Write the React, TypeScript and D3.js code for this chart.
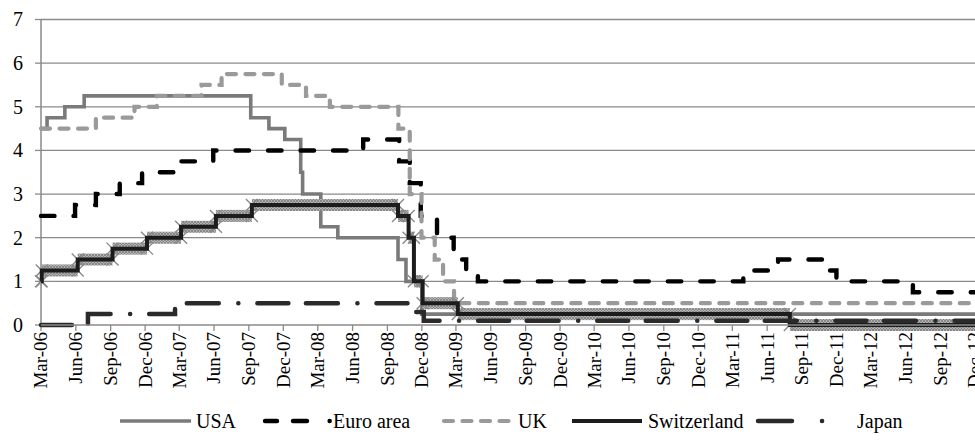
import React from "react";
import * as d3 from "d3";

type Pt = [string, number];

// Policy-rate change points (date, rate %)
const USA: Pt[] = [
  ["2006-03-01", 4.5], ["2006-03-17", 4.75], ["2006-05-03", 5.0], ["2006-06-23", 5.25],
  ["2007-09-06", 4.75], ["2007-10-24", 4.5], ["2007-12-05", 4.25], ["2008-01-16", 3.5],
  ["2008-01-21", 3.0], ["2008-03-09", 2.25], ["2008-04-23", 2.0], ["2008-09-29", 1.5],
  ["2008-10-20", 1.0], ["2008-12-01", 0.25],
];
const EURO: Pt[] = [
  ["2006-03-01", 2.5], ["2006-05-30", 2.75], ["2006-07-24", 3.0], ["2006-09-25", 3.25],
  ["2006-11-23", 3.5], ["2007-02-28", 3.75], ["2007-05-30", 4.0], ["2008-06-29", 4.25],
  ["2008-10-02", 3.75], ["2008-10-30", 3.25], ["2008-11-28", 2.5], ["2009-01-10", 2.0],
  ["2009-02-23", 1.5], ["2009-03-28", 1.25], ["2009-04-28", 1.0], ["2011-03-30", 1.25],
  ["2011-06-30", 1.5], ["2011-10-24", 1.25], ["2011-12-01", 1.0], ["2012-06-20", 0.75],
];
const UK: Pt[] = [
  ["2006-03-01", 4.5], ["2006-07-24", 4.75], ["2006-11-03", 5.0], ["2007-01-01", 5.25],
  ["2007-04-29", 5.5], ["2007-06-21", 5.75], ["2007-11-27", 5.5], ["2008-01-30", 5.25],
  ["2008-04-02", 5.0], ["2008-09-30", 4.5], ["2008-10-30", 3.0], ["2008-11-30", 2.0],
  ["2009-01-04", 1.5], ["2009-01-26", 1.0], ["2009-02-24", 0.5],
];
const SWISS: Pt[] = [
  ["2006-03-01", 1.0], ["2006-03-03", 1.25], ["2006-06-06", 1.5], ["2006-09-06", 1.75],
  ["2006-12-06", 2.0], ["2007-03-06", 2.25], ["2007-06-06", 2.5], ["2007-09-09", 2.75],
  ["2008-09-29", 2.5], ["2008-10-27", 2.0], ["2008-11-10", 1.0], ["2008-12-03", 0.5],
  ["2009-03-06", 0.25], ["2011-07-31", 0.0],
];
const JAPAN: Pt[] = [
  ["2006-03-01", 0.0], ["2006-07-03", 0.25], ["2007-02-18", 0.5], ["2008-10-25", 0.3],
  ["2008-12-06", 0.1],
];

const SERIES_NAMES = ["USA", "Euro area", "UK", "Switzerland", "Japan"];
const Y_TICKS = [0, 1, 2, 3, 4, 5, 6, 7];
const AXIS_START = "2006-03-01";
const AXIS_END = "2012-12-01";
const DATA_END = "2013-03-01";

const parse = d3.utcParse("%Y-%m-%d");
const FONT = '"Liberation Serif", "Times New Roman", Times, "DejaVu Serif", serif';

export default function App() {
  const W = 975, H = 443;
  const x = d3.scaleUtc().domain([parse(AXIS_START)!, parse(AXIS_END)!]).range([41, 975]);
  const y = d3.scaleLinear().domain([0, 7]).range([325, 19.5]);

  const withEnd = (s: Pt[]) => [...s, [DATA_END, s[s.length - 1][1]] as Pt].map(([d, v]) => [parse(d)!, v] as [Date, number]);
  const line = d3.line<[Date, number]>().x(d => x(d[0])).y(d => y(d[1])).curve(d3.curveStepAfter);

  const ticks = d3.utcMonth.range(parse(AXIS_START)!, d3.utcDay.offset(parse(AXIS_END)!, 1), 3);
  const fmt = d3.utcFormat("%b-%y");

  const swissPts = withEnd(SWISS);
  const runs = swissPts.slice(0, -1).map((p, i) => ({ x0: x(p[0]), x1: x(swissPts[i + 1][0]), yy: y(p[1]) }));
  const xMark = (cx: number, cy: number, r = 6) => `M${cx - r},${cy - r}L${cx + r},${cy + r}M${cx - r},${cy + r}L${cx + r},${cy - r}`;

  const legY = 421;
  const fs = 20;
  const tStyle = { fontFamily: FONT };

  return (
    <svg width={W} height={H} style={{ position: "absolute", left: 0, top: 0, background: "#fff", fontFamily: FONT }}>
      <defs>
        <pattern id="hatch" width="3" height="3" patternUnits="userSpaceOnUse">
          <rect width="3" height="3" fill="#b4b4b4" />
          <path d="M0,0L3,3M3,0L0,3" stroke="#7c7c7c" strokeWidth="0.8" />
        </pattern>
        <clipPath id="clipR"><rect x={0} y={0} width={W} height={H} /></clipPath>
      </defs>
      {Y_TICKS.filter(t => t > 0).map(t => (
        <line key={t} x1={41} x2={W} y1={y(t)} y2={y(t)} stroke="#8a8a8a" strokeWidth={1.3} />
      ))}
      <line x1={41} x2={41} y1={y(7)} y2={y(0)} stroke="#8a8a8a" strokeWidth={1.5} />
      {Y_TICKS.map(t => (
        <g key={t}>
          <line x1={35} x2={41} y1={y(t)} y2={y(t)} stroke="#8a8a8a" strokeWidth={1.3} />
          <text x={23} y={y(t)} dy="0.34em" textAnchor="end" fontSize={fs} fill="#000" style={tStyle}>{t}</text>
        </g>
      ))}
      {ticks.map(t => (
        <g key={+t}>
          <line x1={x(t)} x2={x(t)} y1={y(0)} y2={y(0) + 6} stroke="#8a8a8a" strokeWidth={1.3} />
          <text transform={`translate(${x(t)},${332}) rotate(-90)`} dy="0.34em" textAnchor="end" fontSize={19} fill="#000" style={tStyle}>{fmt(t)}</text>
        </g>
      ))}

      <g clipPath="url(#clipR)">
        <path d={line(withEnd(USA))!} fill="none" stroke="#7a7a7a" strokeWidth={3.6} />
        <path d={line(withEnd(EURO))!} fill="none" stroke="#000" strokeWidth={4.4} strokeDasharray="13.5,19" strokeLinecap="round" />
        <path d={line(withEnd(UK))!} fill="none" stroke="#9a9a9a" strokeWidth={4.2} strokeDasharray="9,9.5" strokeLinecap="round" />
        {runs.map((r, i) => (
          <g key={i}>
            <rect x={r.x0} y={r.yy - 6} width={Math.max(0.5, r.x1 - r.x0)} height={12} fill="url(#hatch)" />
            <path d={xMark(r.x0, r.yy) + xMark(r.x1, r.yy)} stroke="#8a8a8a" strokeWidth={1.4} fill="none" />
          </g>
        ))}
        <path d={line(swissPts)!} fill="none" stroke="#1c1c1c" strokeWidth={4} />
        <path d={line(withEnd(JAPAN))!} fill="none" stroke="#2a2a2a" strokeWidth={4.5} strokeDasharray="31,17.5,32,19.5,0.1,19" strokeLinecap="round" />
      </g>

      <line x1={41} x2={W} y1={y(0)} y2={y(0)} stroke="#8a8a8a" strokeWidth={1.5} />

      <g fontSize={fs} fill="#000" style={tStyle}>
        <line x1={120} x2={191} y1={legY} y2={legY} stroke="#7a7a7a" strokeWidth={3.6} />
        <text x={196} y={legY} dy="0.34em" style={tStyle}>{SERIES_NAMES[0]}</text>

        <line x1={265} x2={329.7} y1={legY} y2={legY} stroke="#000" strokeWidth={4.4} strokeLinecap="round" strokeDasharray="12,16,14,22.6,0.1,100" />
        <text x={333} y={legY} dy="0.34em" style={tStyle}>{SERIES_NAMES[1]}</text>

        <line x1={444} x2={509} y1={legY} y2={legY} stroke="#9a9a9a" strokeWidth={4.2} strokeLinecap="round" strokeDasharray="9,9.5" />
        <text x={518} y={legY} dy="0.34em" style={tStyle}>{SERIES_NAMES[2]}</text>

        <line x1={572} x2={642} y1={legY} y2={legY} stroke="#1c1c1c" strokeWidth={4} />
        <text x={648} y={legY} dy="0.34em" style={tStyle}>{SERIES_NAMES[3]}</text>

        <line x1={758} x2={822.1} y1={legY} y2={legY} stroke="#2a2a2a" strokeWidth={4.5} strokeLinecap="round" strokeDasharray="34,30,0.1,100" />
        <text x={857} y={legY} dy="0.34em" style={tStyle}>{SERIES_NAMES[4]}</text>
      </g>
    </svg>
  );
}
